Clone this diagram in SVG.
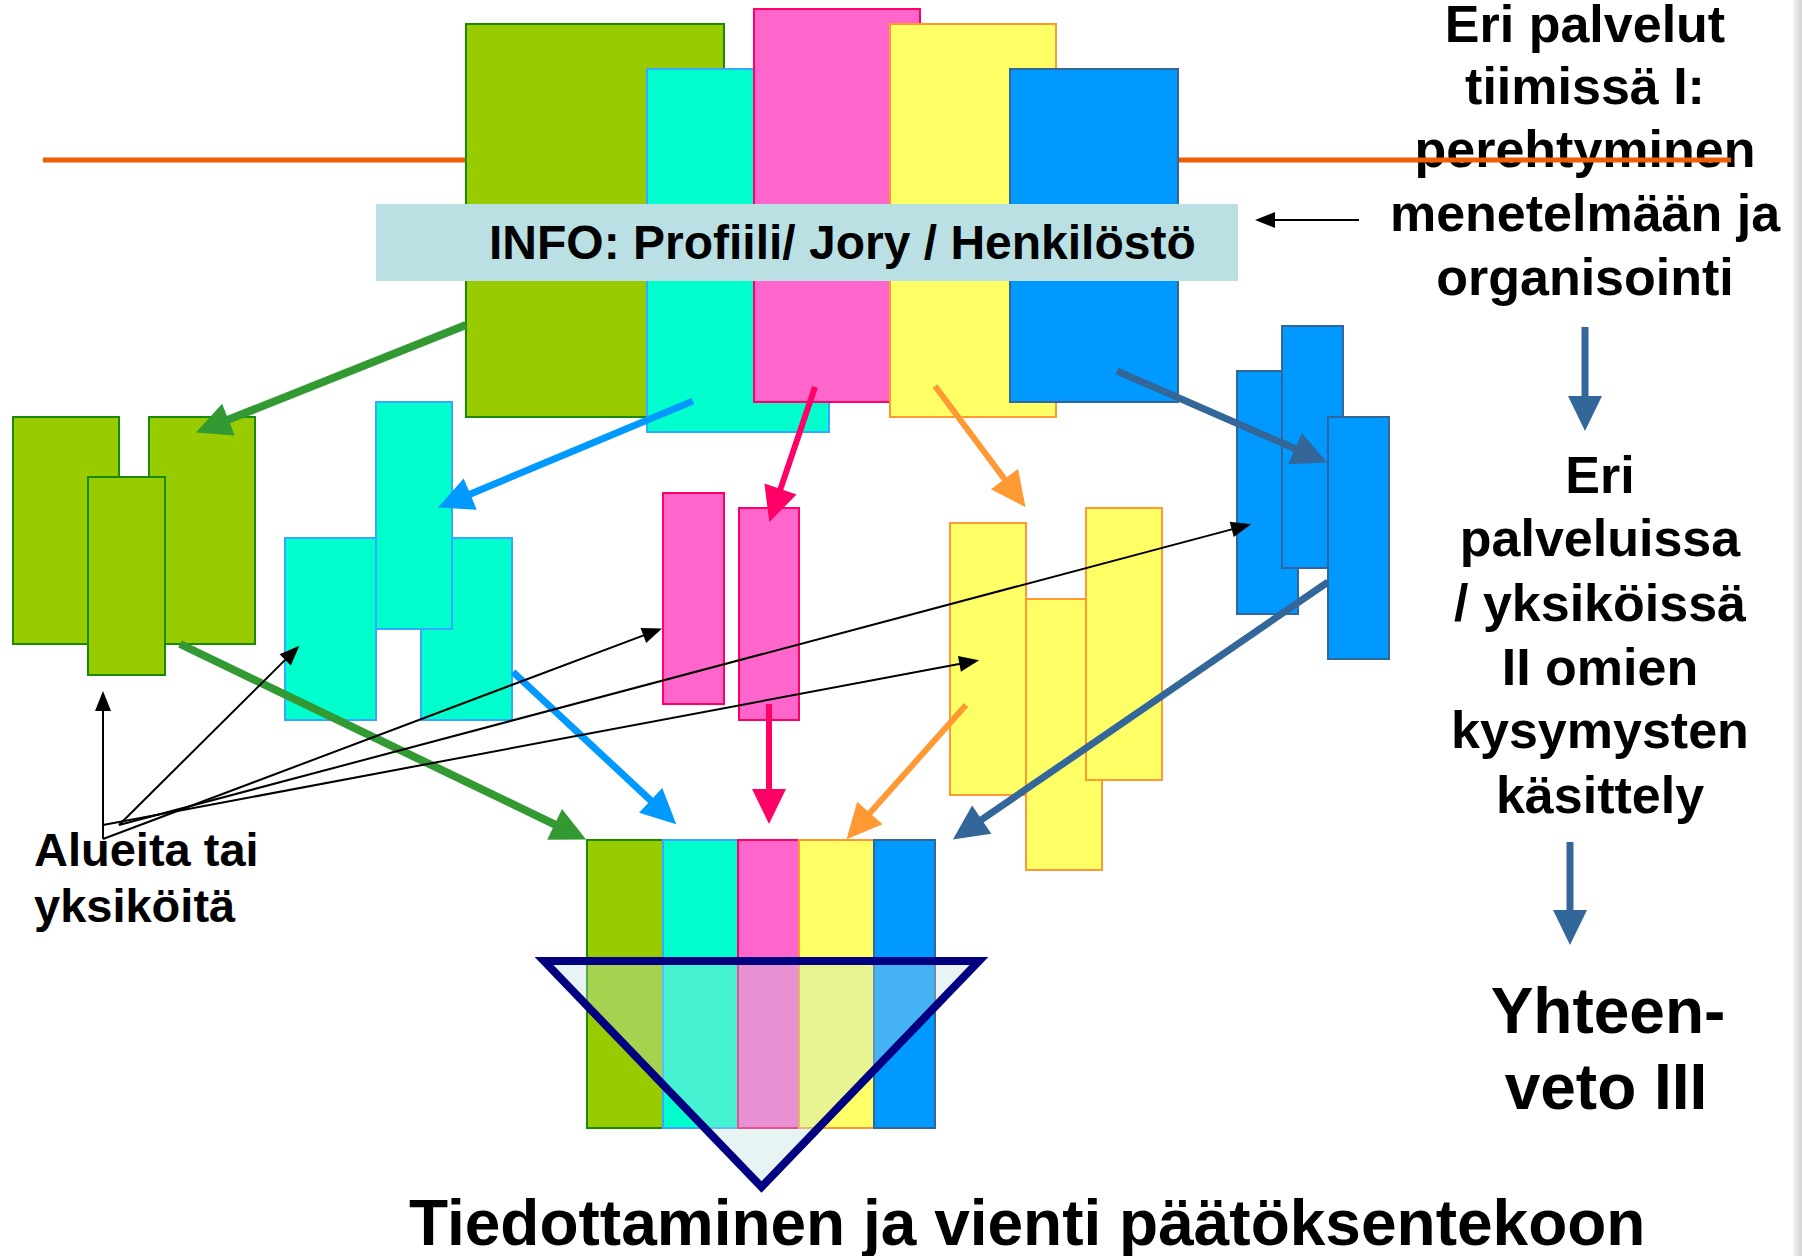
<svg xmlns="http://www.w3.org/2000/svg" width="1802" height="1256" viewBox="0 0 1802 1256">
<defs>
<style>
.t{font-family:"Liberation Sans",Arial,sans-serif;font-weight:bold;fill:#000}
.g{fill:#99CC00;stroke:#1A8A00;stroke-width:2}
.c{fill:#00FFCC;stroke:#33AAFF;stroke-width:2}
.p{fill:#FF66CC;stroke:#FF0066;stroke-width:2}
.y{fill:#FFFF66;stroke:#FF9933;stroke-width:2}
.b{fill:#0099FF;stroke:#336699;stroke-width:2}
.k{stroke:#000;stroke-width:2;fill:none}
</style>
<linearGradient id="edge" x1="0" y1="0" x2="1" y2="0">
<stop offset="0" stop-color="#F4F4F4"/>
<stop offset="1" stop-color="#D4D4D4"/>
</linearGradient>
<marker id="mGreen" markerUnits="userSpaceOnUse" markerWidth="36" markerHeight="34" refX="1" refY="17" orient="auto" overflow="visible"><path d="M0,0 L35,17 L0,34 z" fill="#339933"/></marker>
<marker id="mSky" markerUnits="userSpaceOnUse" markerWidth="36" markerHeight="34" refX="1" refY="17" orient="auto" overflow="visible"><path d="M0,0 L35,17 L0,34 z" fill="#0099FF"/></marker>
<marker id="mPink" markerUnits="userSpaceOnUse" markerWidth="36" markerHeight="34" refX="1" refY="17" orient="auto" overflow="visible"><path d="M0,0 L35,17 L0,34 z" fill="#FF0066"/></marker>
<marker id="mOrange" markerUnits="userSpaceOnUse" markerWidth="36" markerHeight="34" refX="1" refY="17" orient="auto" overflow="visible"><path d="M0,0 L35,17 L0,34 z" fill="#FF9933"/></marker>
<marker id="mNavy" markerUnits="userSpaceOnUse" markerWidth="36" markerHeight="34" refX="1" refY="17" orient="auto" overflow="visible"><path d="M0,0 L35,17 L0,34 z" fill="#336699"/></marker>
<marker id="mBlack" markerUnits="userSpaceOnUse" markerWidth="21" markerHeight="16" refX="1" refY="8" orient="auto" overflow="visible"><path d="M0,0 L20,8 L0,16 z" fill="#000"/></marker>
</defs>
<rect x="0" y="0" width="1802" height="1256" fill="#FFFFFF"/>
<rect x="1793" y="0" width="9" height="1256" fill="url(#edge)"/>

<g id="label-top-right">
<text class="t" font-size="52" text-anchor="middle" x="1585" y="42">Eri palvelut</text>
<text class="t" font-size="52" text-anchor="middle" x="1585" y="104">tiimissä I:</text>
<text class="t" font-size="52" text-anchor="middle" x="1585" y="167">perehtyminen</text>
<text class="t" font-size="52" text-anchor="middle" x="1585" y="231">menetelmään ja</text>
<text class="t" font-size="52" text-anchor="middle" x="1585" y="295">organisointi</text>
</g>

<g id="timeline">
<line x1="43" y1="160" x2="1731" y2="160" stroke="#F25C05" stroke-width="5"/>
</g>

<g id="team-green"><rect class="g" x="466" y="24" width="258" height="393"/></g>
<g id="team-cyan"><rect class="c" x="647" y="69" width="182" height="363"/></g>
<g id="team-pink"><rect class="p" x="754" y="9" width="166" height="393"/></g>
<g id="team-yellow"><rect class="y" x="890" y="24" width="166" height="393"/></g>
<g id="team-blue"><rect class="b" x="1010" y="69" width="168" height="333"/></g>

<g id="info">
<rect x="376" y="204" width="862" height="77" fill="#BBE0E3"/>
<text class="t" font-size="48" x="489" y="259">INFO: Profiili/ Jory / Henkilöstö</text>
</g>

<g id="units-green">
<rect class="g" x="13" y="417" width="106" height="227"/>
<rect class="g" x="149" y="417" width="106" height="227"/>
<rect class="g" x="88" y="477" width="77" height="198"/>
</g>
<g id="units-cyan">
<rect class="c" x="285" y="538" width="91" height="182"/>
<rect class="c" x="421" y="538" width="91" height="182"/>
<rect class="c" x="376" y="402" width="76" height="227"/>
</g>
<g id="units-pink">
<rect class="p" x="663" y="493" width="61" height="211"/>
<rect class="p" x="739" y="508" width="60" height="212"/>
</g>
<g id="units-yellow">
<rect class="y" x="950" y="523" width="76" height="272"/>
<rect class="y" x="1026" y="599" width="76" height="271"/>
<rect class="y" x="1086" y="508" width="76" height="272"/>
</g>
<g id="units-blue">
<rect class="b" x="1237" y="371" width="61" height="243"/>
<rect class="b" x="1282" y="326" width="61" height="242"/>
<rect class="b" x="1328" y="417" width="61" height="242"/>
</g>

<g id="summary-bars">
<rect x="587" y="840" width="76" height="288" fill="#99CC00" stroke="#1A8A00" stroke-width="2"/>
<rect x="663" y="840" width="75" height="288" fill="#00FFCC" stroke="#33AAFF" stroke-width="2"/>
<rect x="738" y="840" width="61" height="288" fill="#FF66CC" stroke="#FF0066" stroke-width="2"/>
<rect x="799" y="840" width="75" height="288" fill="#FFFF66" stroke="#FF9933" stroke-width="2"/>
<rect x="874" y="840" width="61" height="288" fill="#0099FF" stroke="#336699" stroke-width="2"/>
</g>

<g id="funnel">
<polygon points="544,961 979,961 761.5,1187" fill="#BFDFDF" fill-opacity="0.36" stroke="#000080" stroke-width="8" stroke-linejoin="miter"/>
</g>

<g id="label-left">
<text class="t" font-size="47" x="34" y="866">Alueita tai</text>
<text class="t" font-size="47" x="34" y="922">yksiköitä</text>
</g>

<g id="label-mid-right">
<text class="t" font-size="52" text-anchor="middle" x="1600" y="493">Eri</text>
<text class="t" font-size="52" text-anchor="middle" x="1600" y="556">palveluissa</text>
<text class="t" font-size="52" text-anchor="middle" x="1600" y="621">/ yksiköissä</text>
<text class="t" font-size="52" text-anchor="middle" x="1600" y="685">II omien</text>
<text class="t" font-size="52" text-anchor="middle" x="1600" y="748">kysymysten</text>
<text class="t" font-size="52" text-anchor="middle" x="1600" y="813">käsittely</text>
</g>

<g id="label-summary">
<text class="t" font-size="64" text-anchor="middle" x="1608" y="1033">Yhteen-</text>
<text class="t" font-size="64" text-anchor="middle" x="1606" y="1109">veto III</text>
</g>

<g id="label-bottom">
<text class="t" font-size="64" x="409" y="1245">Tiedottaminen ja vienti päätöksentekoon</text>
</g>

<g id="connectors" fill="none">
<line x1="466" y1="325" x2="227.5" y2="420" stroke="#339933" stroke-width="8" marker-end="url(#mGreen)"/>
<line x1="180" y1="644" x2="555.5" y2="824.8" stroke="#339933" stroke-width="8" marker-end="url(#mGreen)"/>
<line x1="693" y1="401" x2="469.3" y2="494.5" stroke="#0099FF" stroke-width="7" marker-end="url(#mSky)"/>
<line x1="513" y1="672" x2="651.4" y2="801.1" stroke="#0099FF" stroke-width="7" marker-end="url(#mSky)"/>
<line x1="815" y1="387" x2="780.2" y2="489.9" stroke="#FF0066" stroke-width="6" marker-end="url(#mPink)"/>
<line x1="769" y1="704" x2="769" y2="790" stroke="#FF0066" stroke-width="6" marker-end="url(#mPink)"/>
<line x1="935" y1="386" x2="1005.1" y2="479.9" stroke="#FF9933" stroke-width="6" marker-end="url(#mOrange)"/>
<line x1="966" y1="705" x2="869.2" y2="813.8" stroke="#FF9933" stroke-width="6" marker-end="url(#mOrange)"/>
<line x1="1117" y1="371" x2="1295.9" y2="449" stroke="#336699" stroke-width="7" marker-end="url(#mNavy)"/>
<line x1="1328" y1="582" x2="980.9" y2="820.2" stroke="#336699" stroke-width="7" marker-end="url(#mNavy)"/>
<line x1="1585" y1="327" x2="1585" y2="397" stroke="#336699" stroke-width="7" marker-end="url(#mNavy)"/>
<line x1="1570" y1="842" x2="1570" y2="911" stroke="#336699" stroke-width="7" marker-end="url(#mNavy)"/>
<line class="k" x1="1359" y1="220" x2="1274" y2="220" marker-end="url(#mBlack)"/>
<line class="k" x1="103" y1="839" x2="103" y2="710" marker-end="url(#mBlack)"/>
<line class="k" x1="119" y1="825" x2="285.9" y2="659.1" marker-end="url(#mBlack)"/>
<line class="k" x1="103" y1="839" x2="644.3" y2="635.1" marker-end="url(#mBlack)"/>
<line class="k" x1="119" y1="825" x2="1232.7" y2="529.1" marker-end="url(#mBlack)"/>
<line class="k" x1="103" y1="825" x2="960.4" y2="663.8" marker-end="url(#mBlack)"/>
</g>
</svg>
